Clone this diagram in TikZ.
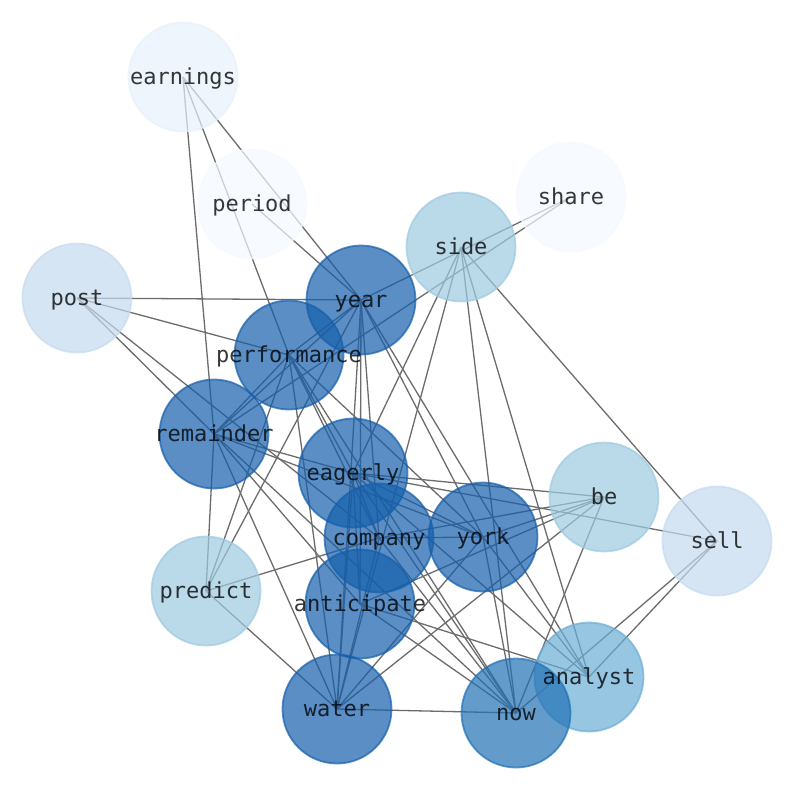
\documentclass[tikz,border=0pt]{standalone}
\usepackage{fontspec}
\setmonofont{DejaVu Sans Mono}
\definecolor{dk}{RGB}{21,95,171}
\definecolor{nw}{RGB}{33,113,181}
\definecolor{md}{RGB}{107,174,214}
\definecolor{lt}{RGB}{158,202,225}
\definecolor{vl}{RGB}{198,219,239}
\definecolor{el}{RGB}{232,241,251}
\definecolor{pl}{RGB}{245,250,255}
\definecolor{edgec}{RGB}{108,108,108}
\tikzset{
  nd/.style={circle, minimum size=109pt, inner sep=0pt, line width=1.8pt,
    draw=#1, fill=#1, fill opacity=0.7, draw opacity=0.7},
  lab/.style={inner sep=0pt, text=black, text opacity=0.78,
    font=\ttfamily\fontsize{22}{26}\selectfont, text height=18pt, text depth=4pt},
  ln/.style={draw=edgec, line width=1.3pt}
}
\begin{document}
\begin{tikzpicture}[x=1pt,y=-1pt]
\useasboundingbox (0,0) rectangle (794,790);
\fill[white] (0,0) rectangle (794,790);
% positions
\coordinate (earnings) at (183,77);
\coordinate (period) at (252,204);
\coordinate (share) at (571,197);
\coordinate (side) at (461,247);
\coordinate (post) at (77,298);
\coordinate (year) at (361,300);
\coordinate (performance) at (289,355);
\coordinate (remainder) at (214,434);
\coordinate (eagerly) at (353,473);
\coordinate (be) at (604,497);
\coordinate (company) at (379,538);
\coordinate (york) at (483,537);
\coordinate (sell) at (717,541);
\coordinate (predict) at (206,591);
\coordinate (anticipate) at (360,604);
\coordinate (analyst) at (589,677);
\coordinate (water) at (337,709);
\coordinate (now) at (516,713);
% edges
\foreach \a/\b in {earnings/remainder, earnings/performance, earnings/year,
  period/year, share/year, share/remainder,
  side/eagerly, side/water, side/now, side/analyst, side/sell,
  post/year, post/performance, post/remainder, post/company,
  year/remainder, year/performance, year/predict, year/water, year/company,
  year/anticipate, year/york, year/analyst,
  performance/remainder, performance/predict, performance/water, performance/now,
  performance/eagerly, performance/company, performance/york,
  remainder/predict, remainder/water, remainder/anticipate, remainder/eagerly,
  remainder/york, remainder/now,
  eagerly/be, eagerly/sell, eagerly/company, eagerly/york, eagerly/anticipate,
  eagerly/now, eagerly/water, eagerly/analyst,
  company/predict, company/be, company/york, company/now, company/water,
  york/be, york/water, york/now, york/analyst,
  predict/water, anticipate/analyst, anticipate/now, anticipate/be,
  water/be, water/now, be/now, sell/analyst, sell/now}
  \draw[ln] (\a) -- (\b);
% node discs
\node[nd=el] (nearnings) at (earnings) {};
\node[nd=pl] (nperiod) at (period) {};
\node[nd=pl] (nshare) at (share) {};
\node[nd=lt] (nside) at (side) {};
\node[nd=vl] (npost) at (post) {};
\node[nd=dk] (nyear) at (year) {};
\node[nd=dk] (nperformance) at (performance) {};
\node[nd=dk] (nremainder) at (remainder) {};
\node[nd=dk] (neagerly) at (eagerly) {};
\node[nd=lt] (nbe) at (be) {};
\node[nd=dk] (ncompany) at (company) {};
\node[nd=dk] (nyork) at (york) {};
\node[nd=vl] (nsell) at (sell) {};
\node[nd=lt] (npredict) at (predict) {};
\node[nd=dk] (nanticipate) at (anticipate) {};
\node[nd=md] (nanalyst) at (analyst) {};
\node[nd=dk] (nwater) at (water) {};
\node[nd=nw] (nnow) at (now) {};
% labels
\foreach \n in {earnings,period,share,side,post,year,performance,remainder,
  eagerly,be,company,york,sell,predict,anticipate,analyst,water,now}
  \node[lab] (l\n) at (\n) {\n};
\end{tikzpicture}
\end{document}
